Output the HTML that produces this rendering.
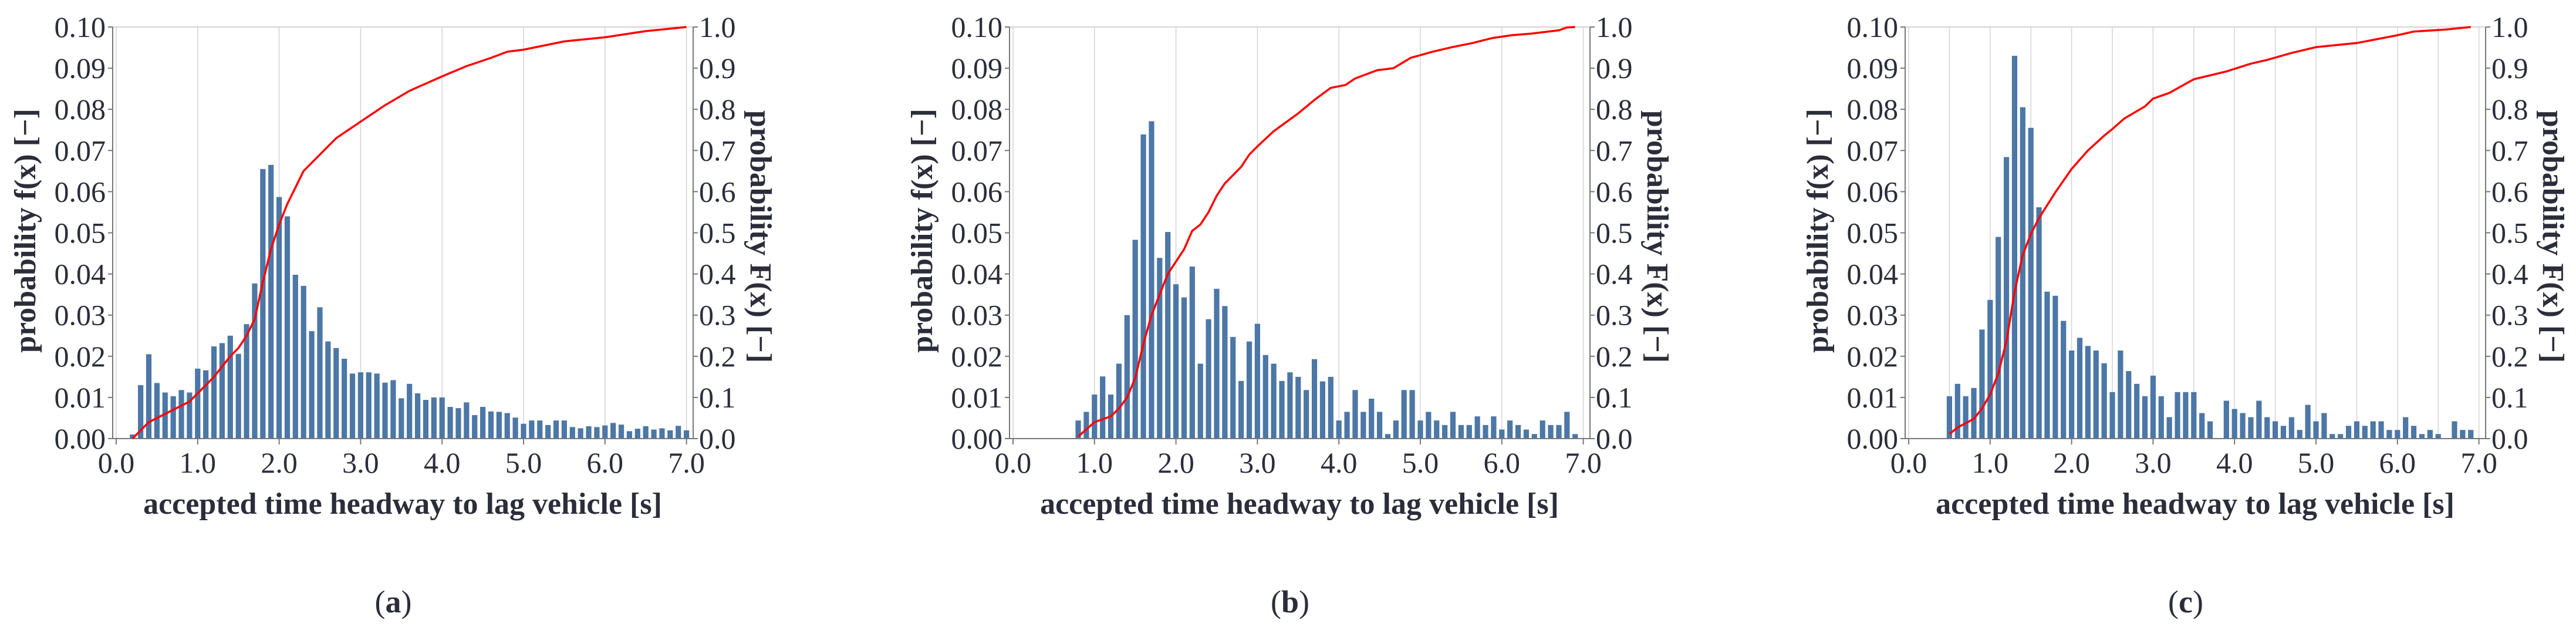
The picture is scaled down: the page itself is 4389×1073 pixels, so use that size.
<!DOCTYPE html>
<html><head><meta charset="utf-8">
<style>
html,body{margin:0;padding:0;background:#fff;}
svg{display:block;}
text{font-family:"Liberation Serif",serif;fill:#2b2d3a;}
</style></head>
<body>
<svg id="fig" width="4389" height="1073" viewBox="0 0 4389 1073" xmlns="http://www.w3.org/2000/svg"></svg>
<script>
// ---- Panel (a) data ----
const aBinStart = 0.2;
const aPdf = [0.1,1.3,2.05,1.35,1.12,1.03,1.18,1.12,1.7,1.66,2.24,2.32,2.5,2.06,2.78,3.77,6.55,6.65,5.87,5.4,3.98,3.71,2.61,3.19,2.36,2.2,1.94,1.58,1.61,1.61,1.58,1.36,1.42,0.98,1.33,1.1,0.94,1.0,1.0,0.77,0.74,0.88,0.57,0.77,0.66,0.65,0.62,0.51,0.36,0.44,0.44,0.33,0.44,0.44,0.28,0.25,0.3,0.28,0.32,0.38,0.34,0.18,0.24,0.3,0.22,0.25,0.2,0.31,0.2];
const aCdfX = [0.2,0.25,0.4,0.5,0.7,0.9,1.0,1.2,1.4,1.5,1.6,1.7,1.8,1.9,2.0,2.1,2.2,2.3,2.5,2.7,3.0,3.3,3.6,4.0,4.3,4.6,4.8,5.0,5.5,6.0,6.5,7.0];
const aCdfY = [0.0,0.01,0.04,0.05,0.07,0.09,0.11,0.15,0.2,0.22,0.25,0.29,0.38,0.46,0.52,0.57,0.61,0.65,0.69,0.73,0.77,0.81,0.845,0.88,0.905,0.925,0.94,0.945,0.965,0.975,0.99,1.0];
// ---- Panel (b) data ----
const bBinStart = 0.8;
const bPdf = [0.44,0.65,1.07,1.51,1.07,1.82,3.0,4.83,7.39,7.71,4.39,5.02,3.75,3.43,4.18,1.82,2.9,3.64,3.22,2.47,1.4,2.36,2.79,2.03,1.82,1.4,1.61,1.5,1.18,1.93,1.39,1.5,0.44,0.65,1.18,0.65,0.97,0.65,0.11,0.44,1.18,1.18,0.44,0.65,0.44,0.33,0.65,0.33,0.33,0.54,0.33,0.54,0.22,0.44,0.33,0.22,0.11,0.44,0.33,0.33,0.65,0.11];
const bCdfX = [0.8,1.0,1.2,1.3,1.4,1.5,1.6,1.7,1.8,1.9,2.0,2.1,2.2,2.3,2.4,2.5,2.6,2.7,2.8,2.9,3.0,3.2,3.5,3.7,3.9,4.08,4.2,4.47,4.67,4.88,5.15,5.39,5.64,5.88,6.12,6.36,6.7,6.8,6.9];
const bCdfY = [0.005,0.04,0.054,0.073,0.10,0.147,0.23,0.30,0.35,0.40,0.43,0.46,0.505,0.52,0.55,0.59,0.62,0.64,0.66,0.69,0.71,0.747,0.79,0.823,0.852,0.859,0.875,0.895,0.90,0.925,0.94,0.951,0.961,0.973,0.98,0.984,0.992,0.999,1.0];
// ---- Panel (c) data ----
const cBinStart = 0.5;
const cPdf = [1.03,1.33,1.03,1.23,2.65,3.37,4.9,6.84,9.3,8.05,7.55,5.62,3.57,3.47,2.86,2.14,2.45,2.25,2.14,1.83,1.13,2.14,1.64,1.33,1.03,1.53,1.03,0.52,1.13,1.13,1.13,0.62,0.42,0,0.92,0.72,0.62,0.52,0.92,0.52,0.42,0.31,0.52,0.21,0.82,0.42,0.62,0.11,0.11,0.31,0.42,0.31,0.42,0.42,0.21,0.21,0.52,0.31,0.11,0.21,0.11,0,0.42,0.21,0.21];
const cCdfX = [0.5,0.6,0.8,0.9,1.0,1.1,1.2,1.3,1.4,1.5,1.6,1.8,2.0,2.2,2.4,2.5,2.65,2.9,3.0,3.2,3.5,3.9,4.2,4.4,4.7,5.0,5.5,6.0,6.2,6.6,6.9];
const cCdfY = [0.011,0.027,0.048,0.073,0.107,0.158,0.237,0.356,0.446,0.497,0.536,0.598,0.655,0.70,0.736,0.752,0.778,0.807,0.826,0.84,0.873,0.892,0.911,0.92,0.937,0.951,0.961,0.98,0.989,0.994,1.0];
// ---- ticks ----
const xTickLabels = ["0.0","1.0","2.0","3.0","4.0","5.0","6.0","7.0"];
const yLeftTicks = ["0.00","0.01","0.02","0.03","0.04","0.05","0.06","0.07","0.08","0.09","0.10"];
const yRightTicks = ["0.0","0.1","0.2","0.3","0.4","0.5","0.6","0.7","0.8","0.9","1.0"];

const NS = "http://www.w3.org/2000/svg";
const svg = document.getElementById("fig");
function mk(tag, attrs, parent){
  const e = document.createElementNS(NS, tag);
  for (const k in attrs) e.setAttribute(k, attrs[k]);
  (parent||svg).appendChild(e);
  return e;
}

function panel(off, letter, binStart, pdf, cdfX, cdfY, gridStep){
  const g = mk("g", {});
  
  
  const x0 = 198 + off, unit = 138.8;
  const yB = 747, yT = 46;
  const xs = v => x0 + v * unit;
  const yL = v => yB - (v / 0.10) * (yB - yT);   // left axis 0..0.10
  const yR = v => yB - v * (yB - yT);            // right axis 0..1
  const axL = 192 + off, axR = 1181 + off;
  // gridlines
  for (let v = 0; v <= 7.0001; v += gridStep){
    const gl = mk("line", {x1: xs(v), x2: xs(v), y1: yT, y2: yB, stroke: "#d4d4d4", "stroke-width": 1.5}, g);
    
    
  }
  const top = mk("line", {x1: axL, x2: axR, y1: yT, y2: yT, stroke: "#d4d4d4", "stroke-width": 2}, g);
  
  
  // bars
  pdf.forEach((v, i) => {
    const c = binStart + i * 0.1;
    const h = yB - yL(v / 100);
    if (h <= 0) return;
    const r = mk("rect", {x: xs(c) - 4.6, y: yL(v / 100), width: 9.2, height: h, fill: "#4c77a6"}, g);
    
    
  });
  // axes
  const la = mk("line", {x1: axL, x2: axL, y1: yT, y2: yB, stroke: "#777", "stroke-width": 2}, g);
  
  
  const ra = mk("line", {x1: axR, x2: axR, y1: yT, y2: yB, stroke: "#777", "stroke-width": 2}, g);
  
  
  const ba = mk("line", {x1: axL, x2: axR, y1: yB, y2: yB, stroke: "#777", "stroke-width": 2}, g);
  
  
  // CDF line
  let d = "";
  cdfX.forEach((v, i) => { d += (i ? "L" : "M") + xs(v).toFixed(1) + "," + yR(cdfY[i]).toFixed(1); });
  const p = mk("path", {d: d, fill: "none", stroke: "#ff0000", "stroke-width": 3.5, "stroke-linejoin": "round"}, g);
  
  
  // x ticks
  xTickLabels.forEach((t, i) => {
    const v = parseFloat(t);
    mk("line", {x1: xs(v), x2: xs(v), y1: yB, y2: yB + 10, stroke: "#777", "stroke-width": 2}, g);
    const tx = mk("text", {x: xs(v), y: yB + 58, "text-anchor": "middle", "font-size": 50}, g);
    tx.textContent = t;
    
    
  });
  // left y ticks
  yLeftTicks.forEach(t => {
    const v = parseFloat(t);
    mk("line", {x1: axL - 8, x2: axL, y1: yL(v), y2: yL(v), stroke: "#777", "stroke-width": 2}, g);
    const tx = mk("text", {x: axL - 12, y: yL(v) + 17, "text-anchor": "end", "font-size": 50}, g);
    tx.textContent = t;
    
    
  });
  // right y ticks
  yRightTicks.forEach(t => {
    const v = parseFloat(t);
    mk("line", {x1: axR, x2: axR + 8, y1: yR(v), y2: yR(v), stroke: "#777", "stroke-width": 2}, g);
    const tx = mk("text", {x: axR + 10, y: yR(v) + 17, "text-anchor": "start", "font-size": 50}, g);
    tx.textContent = t;
    
    
  });
  // titles
  const xt = mk("text", {x: 686 + off, y: 875, "text-anchor": "middle", "font-size": 52, "font-weight": "bold"}, g);
  xt.textContent = "accepted time headway to lag vehicle [s]";
  
  
  const lt = mk("text", {x: 0, y: 0, "text-anchor": "middle", "font-size": 52, "font-weight": "bold", transform: "translate(" + (60 + off) + ",393) rotate(-90)"}, g);
  lt.textContent = "probability f(x) [\u2212]";
  
  
  const rt = mk("text", {x: 0, y: 0, "text-anchor": "middle", "font-size": 52, "font-weight": "bold", transform: "translate(" + (1279 + off) + ",403) rotate(90)"}, g);
  rt.textContent = "probability F(x) [\u2212]";
  
  
  // caption
  const cap = mk("text", {x: 670 + off, y: 1043, "text-anchor": "middle", "font-size": 54}, g);
  cap.innerHTML = '(<tspan font-weight="bold">' + letter + '</tspan>)';
  
  
}

panel(0, "a", aBinStart, aPdf, aCdfX, aCdfY, 1.0);
panel(1528, "b", bBinStart, bPdf, bCdfX, bCdfY, 1.0);
panel(3054, "c", cBinStart, cPdf, cCdfX, cCdfY, 0.5);
</script>
</body></html>
